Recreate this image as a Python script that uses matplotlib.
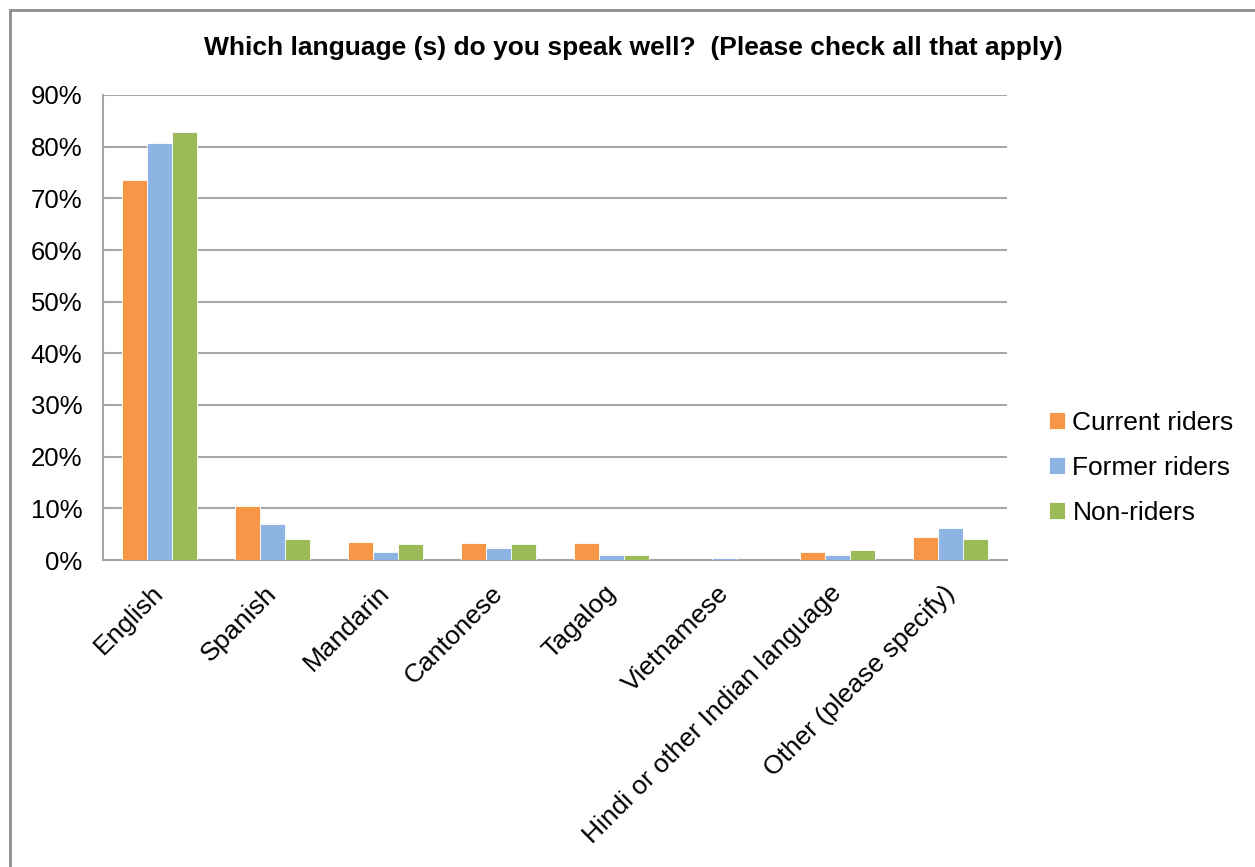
import matplotlib
matplotlib.use("Agg")
import matplotlib.pyplot as plt
from matplotlib.patches import Rectangle
from matplotlib.transforms import ScaledTranslation
import numpy as np

plt.rcParams['font.family'] = ['Liberation Sans', 'DejaVu Sans']

categories = ["English", "Spanish", "Mandarin", "Cantonese", "Tagalog",
              "Vietnamese", "Hindi or other Indian language", "Other (please specify)"]
series_names = ["Current riders", "Former riders", "Non-riders"]
current_riders = [73.6, 10.5, 3.5, 3.3, 3.3, 0.0, 1.5, 4.5]
former_riders = [80.7, 7.0, 1.6, 2.3, 1.0, 0.3, 1.0, 6.2]
non_riders = [82.8, 4.1, 3.1, 3.1, 1.0, 0.0, 2.0, 4.1]
colors = ["#F79646", "#8EB4E3", "#9BBB59"]
title = "Which language (s) do you speak well?  (Please check all that apply)"

fig = plt.figure(figsize=(12.55, 8.67), dpi=100)
# outer chart frame
fig.patches.append(Rectangle((10 / 1255, -0.1), 1.2, 1.1 - 10 / 867,
                             transform=fig.transFigure, fill=False,
                             edgecolor="#8C8C8C", linewidth=2))

ax = fig.add_axes([103 / 1255, 1 - 560 / 867, 904 / 1255, 465 / 867])

x = np.arange(len(categories))
w = 0.221
for i, (vals, name) in enumerate(zip([current_riders, former_riders, non_riders], series_names)):
    ax.bar(x + (i - 1) * w, vals, width=w, color=colors[i], label=name,
           edgecolor="white", linewidth=0.6, zorder=3)

ax.set_xlim(-0.5, len(categories) - 0.5)
ax.set_ylim(0, 90)
ax.set_yticks(np.arange(0, 91, 10))
ax.set_yticklabels([f"{v}%" for v in range(0, 91, 10)], fontsize=18.5)
ax.yaxis.grid(True, color="#A6A6A6", linewidth=1.5, zorder=0)
ax.set_axisbelow(True)
ax.tick_params(axis="both", length=0)
ax.tick_params(axis="y", pad=15)
ax.tick_params(axis="x", pad=8)
ax.set_xticks(x)
ax.set_xticklabels(categories, rotation=45, ha="right", rotation_mode="anchor",
                   fontsize=19)
shift = ScaledTranslation(-8 / 100, -10 / 100, fig.dpi_scale_trans)
for lbl in ax.get_xticklabels():
    lbl.set_transform(lbl.get_transform() + shift)
for s in ["top", "right"]:
    ax.spines[s].set_visible(False)
for s in ["left", "bottom"]:
    ax.spines[s].set_color("#A6A6A6")
    ax.spines[s].set_linewidth(1.5)

fig.text(633 / 1255, 1 - 48 / 867, title, ha="center", va="center",
         fontsize=19, fontweight="bold")

ax.legend(loc="center left", bbox_to_anchor=(1025 / 1255, 1 - 468 / 867),
          bbox_transform=fig.transFigure, frameon=False, fontsize=19,
          handlelength=0.6, handleheight=0.6, handletextpad=0.3,
          labelspacing=0.8)

fig.savefig("out.png", dpi=100)
